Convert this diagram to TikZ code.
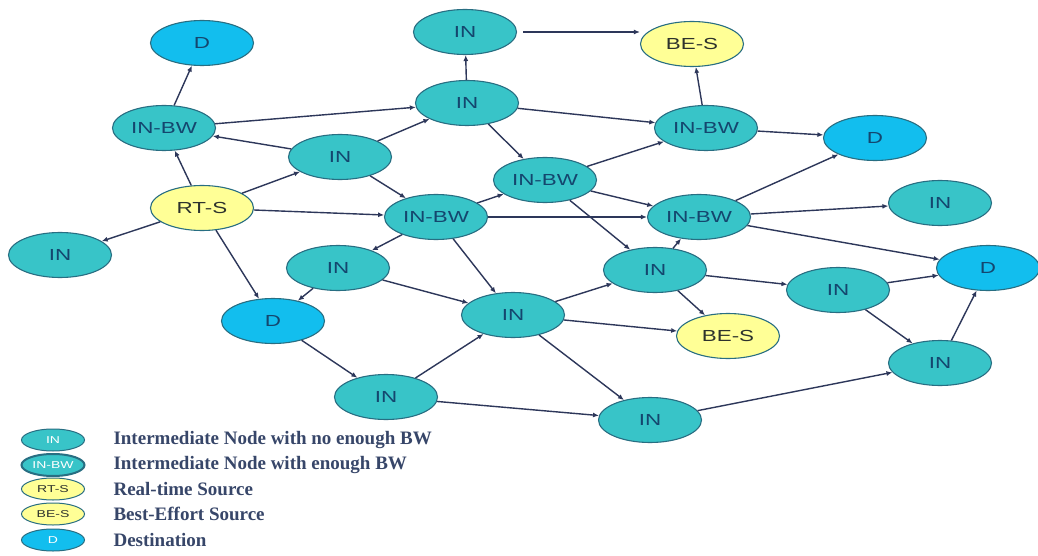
\documentclass[tikz,border=0pt]{standalone}
\usepackage{fontspec}
\setmainfont{Liberation Serif}
\newfontfamily\nodefont[FakeStretch=1.4]{Liberation Sans}
\usetikzlibrary{shapes.geometric, arrows.meta}
\definecolor{infill}{RGB}{56,196,200}
\definecolor{dstfill}{RGB}{18,190,238}
\definecolor{srcfill}{RGB}{255,255,150}
\definecolor{nodeline}{RGB}{40,110,130}
\definecolor{nodetext}{RGB}{20,70,110}
\definecolor{srctext}{RGB}{45,50,45}
\definecolor{linkcol}{RGB}{45,55,90}
\definecolor{keycol}{RGB}{55,70,105}

\tikzset{
  net/.style={ellipse, draw=nodeline, line width=1.1pt, minimum width=103pt,
    minimum height=45pt, inner sep=0pt, text=nodetext,
    font=\nodefont\fontsize{16}{18}\selectfont},
  innode/.style={net, fill=infill},
  bwnode/.style={net, fill=infill},
  srcnode/.style={net, fill=srcfill, text=srctext},
  dstnode/.style={net, fill=dstfill},
  link/.style={-{Latex[length=6pt,width=5pt]}, line width=1.4pt, draw=linkcol},
  keynode/.style={minimum width=63pt, minimum height=22pt, line width=1pt,
    font=\nodefont\fontsize{10}{11}\selectfont},
  keytext/.style={anchor=west, text=keycol, font=\fontsize{19}{22}\selectfont\bfseries}
}

\begin{document}
\begin{tikzpicture}[x=1pt, y=-1pt]
    % Canvas
    \fill[white] (0,0) rectangle (1038,556);
    \useasboundingbox (0,0) rectangle (1038,556);

    % Nodes
    \node[dstnode] (d1)    at (202,43)  {D};
    \node[bwnode]  (inbwA) at (164,128) {IN-BW};
    \node[srcnode] (rts)   at (202,208) {RT-S};
    \node[innode]  (inL)   at (60,255)  {IN};
    \node[innode]  (inA)   at (340,157) {IN};
    \node[innode]  (inT)   at (465,32)  {IN};
    \node[innode]  (inB)   at (467,103) {IN};
    \node[srcnode] (besT)  at (692,44)  {BE-S};
    \node[bwnode]  (inbwT) at (706,128) {IN-BW};
    \node[dstnode] (dR)    at (875,138) {D};
    \node[bwnode]  (inbwM) at (545,180) {IN-BW};
    \node[bwnode]  (inbwC) at (436,217) {IN-BW};
    \node[bwnode]  (inbwR) at (699,217) {IN-BW};
    \node[innode]  (inRF)  at (940,203) {IN};
    \node[innode]  (inC)   at (338,268) {IN};
    \node[dstnode] (dL)    at (273,321) {D};
    \node[innode]  (inE)   at (513,315) {IN};
    \node[innode]  (inD)   at (655,270) {IN};
    \node[srcnode] (besL)  at (728,336) {BE-S};
    \node[innode]  (inF)   at (838,290) {IN};
    \node[dstnode] (dLR)   at (988,268) {D};
    \node[innode]  (inG)   at (940,363) {IN};
    \node[innode]  (inH)   at (386,397) {IN};
    \node[innode]  (inI)   at (650,420) {IN};

    % Links
    \foreach \a/\b in {inbwA/d1, rts/inbwA, inA/inbwA, inbwA/inB, rts/inA,
        rts/inL, rts/inbwC, rts/dL, inB/inT, inB/inbwT, inB/inbwM,
        inA/inB, inA/inbwC, inbwM/inbwT, inbwC/inbwM, inbwM/inbwR, inbwM/inD,
        inbwC/inbwR, inbwC/inC, inbwC/inE, inbwT/besT, inbwT/dR, inbwR/dR,
        inbwR/inRF, inbwR/dLR, inD/inbwR, inD/inF, inD/besL, inF/dLR, inF/inG,
        inG/dLR, inI/inG, inC/inE, inH/inE, inE/inD, inE/besL, inE/inI,
        inH/inI, dL/inH, inC/dL}
        \draw[link] (\a) -- (\b);
    \draw[link] (inT.east) ++(6,0) -- (inT.east -| besT.west);

    % Legend
    \node[innode, keynode]  (kIN) at (53,440) {\textcolor{white}{IN}};
    \node[bwnode, keynode, line width=2pt] (kBW) at (53,465) {\textcolor{white}{IN-BW}};
    \node[srcnode, keynode] (kRT) at (53,489) {RT-S};
    \node[srcnode, keynode] (kBE) at (53,514) {BE-S};
    \node[dstnode, keynode] (kD)  at (53,540) {\textcolor{white}{D}};
    \node[keytext] at (110,440) {Intermediate Node with no enough BW};
    \node[keytext] at (110,465) {Intermediate Node with enough BW};
    \node[keytext] at (110,489) {Real-time Source};
    \node[keytext] at (110,514) {Best-Effort Source};
    \node[keytext] at (110,540) {Destination};
\end{tikzpicture}
\end{document}
